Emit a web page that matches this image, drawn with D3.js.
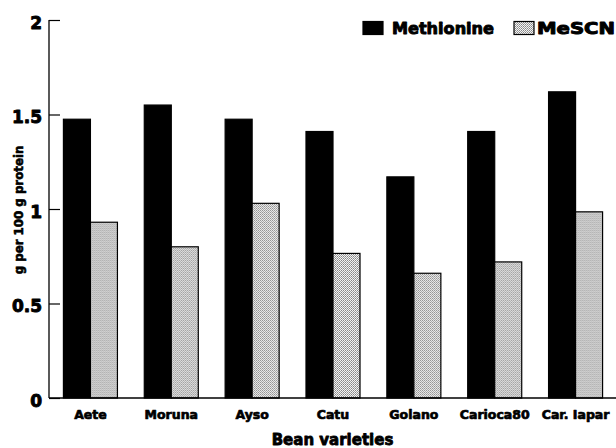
<!DOCTYPE html>
<html>
<head>
<meta charset="utf-8">
<script src="https://cdn.jsdelivr.net/npm/d3@7/dist/d3.min.js"></script>
<style>
  html, body { margin: 0; padding: 0; background: #fff; }
  svg { display: block; }
  text { font-family: "DejaVu Sans", "Liberation Sans", sans-serif; font-weight: bold; fill: #000; stroke: #000; stroke-linejoin: round; }
</style>
</head>
<body>
<svg id="chart" width="616" height="448"></svg>
<script>
// Bean varieties and their sulphur amino acid contents (g per 100 g protein)
const varieties = ["Aete", "Moruna", "Ayso", "Catu", "Golano", "Carioca80", "Car. Iapar"];
const methionine = [1.475, 1.55, 1.475, 1.41, 1.17, 1.41, 1.62];
const mescn = [0.93, 0.80, 1.03, 0.765, 0.66, 0.72, 0.985];
const seriesNames = ["Methionine", "MeSCN"];
const yTicks = [0, 0.5, 1, 1.5, 2];
const yTickLabels = ["0", "0.5", "1", "1.5", "2"];

const svg = d3.select("#chart");
const plot = { left: 49, right: 616, top: 20, bottom: 398 };

// Dithered grey fill used for the MeSCN bars
const defs = svg.append("defs");
const pat = defs.append("pattern")
  .attr("id", "stipple").attr("patternUnits", "userSpaceOnUse")
  .attr("width", 2).attr("height", 2);
pat.append("rect").attr("width", 2).attr("height", 2).attr("fill", "#f4f4f4");
pat.append("rect").attr("x", 1).attr("y", 0).attr("width", 1).attr("height", 1).attr("fill", "#868686");
pat.append("rect").attr("x", 0).attr("y", 1).attr("width", 1).attr("height", 1).attr("fill", "#a0a0a0");

const x0 = d3.scaleBand().domain(varieties)
  .range([plot.left + 1, plot.right]).paddingInner(0.332).paddingOuter(0.166);
const x1 = d3.scaleBand().domain(seriesNames).range([0, x0.bandwidth()]);
const y = d3.scaleLinear().domain([0, 2]).range([plot.bottom, plot.top]);

const rows = varieties.map((v, i) => ({ name: v, values: [methionine[i], mescn[i]] }));
const fills = { "Methionine": "#000", "MeSCN": "url(#stipple)" };

// Bars
const groups = svg.append("g").selectAll("g").data(rows).join("g")
  .attr("transform", d => `translate(${x0(d.name)},0)`);
groups.selectAll("rect")
  .data(d => seriesNames.map((s, j) => ({ s, v: d.values[j] })))
  .join("rect")
  .attr("x", d => x1(d.s))
  .attr("y", d => y(d.v))
  .attr("width", x1.bandwidth())
  .attr("height", d => y(0) - y(d.v))
  .attr("fill", d => fills[d.s])
  .attr("stroke", "#000").attr("stroke-width", 1.2);

// Y axis: ticks point inward, labels on the left
const yAxis = d3.axisRight(y).tickValues(yTicks).tickSize(11).tickFormat("");
const gy = svg.append("g").attr("transform", `translate(${plot.left},0)`).call(yAxis);
gy.select(".domain").attr("d", `M0,${plot.top}V${plot.bottom}`).attr("stroke", "#000").attr("stroke-width", 1.3);
gy.selectAll(".tick line").attr("stroke", "#000").attr("stroke-width", 1.2);

svg.append("g").selectAll("text").data(yTicks).join("text")
  .attr("x", 42).attr("y", d => y(d) + 8.5)
  .attr("text-anchor", "end").attr("font-size", 17).attr("stroke-width", 0.9)
  .text((d, i) => yTickLabels[i]);

// X axis baseline and category labels
const xAxis = d3.axisBottom(x0).tickSize(0).tickPadding(0);
const gx = svg.append("g").attr("transform", `translate(0,${plot.bottom})`).call(xAxis);
gx.select(".domain").attr("d", `M${plot.left},0H${plot.right}`).attr("stroke", "#000").attr("stroke-width", 1.3);
gx.selectAll(".tick text")
  .attr("y", 21).attr("dy", 0)
  .attr("font-size", 12.5).attr("stroke-width", 0.7)
  .attr("font-family", "DejaVu Sans").attr("font-weight", "bold").attr("fill", "#000");

// Axis titles
svg.append("text")
  .attr("x", (plot.left + plot.right) / 2).attr("y", 445)
  .attr("text-anchor", "middle").attr("font-size", 15).attr("stroke-width", 0.8)
  .text("Bean varieties");

svg.append("text")
  .attr("transform", "translate(23,210) rotate(-90)")
  .attr("text-anchor", "middle").attr("font-size", 11.8).attr("stroke-width", 0.6)
  .text("g per 100 g protein");

// Legend
const legend = [
  { name: "Methionine", box: 363, tx: 392, len: 102 },
  { name: "MeSCN", box: 514, tx: 537, len: 78 }
];
const lg = svg.append("g");
lg.selectAll("rect").data(legend).join("rect")
  .attr("x", d => d.box).attr("y", 21.5).attr("width", 20).attr("height", 13)
  .attr("fill", d => fills[d.name]).attr("stroke", "#000").attr("stroke-width", 1.2);
lg.selectAll("text").data(legend).join("text")
  .attr("x", d => d.tx).attr("y", 33.5).attr("font-size", 15).attr("stroke-width", 0.9)
  .attr("textLength", d => d.len).attr("lengthAdjust", "spacingAndGlyphs")
  .text(d => d.name);
</script>
</body>
</html>
